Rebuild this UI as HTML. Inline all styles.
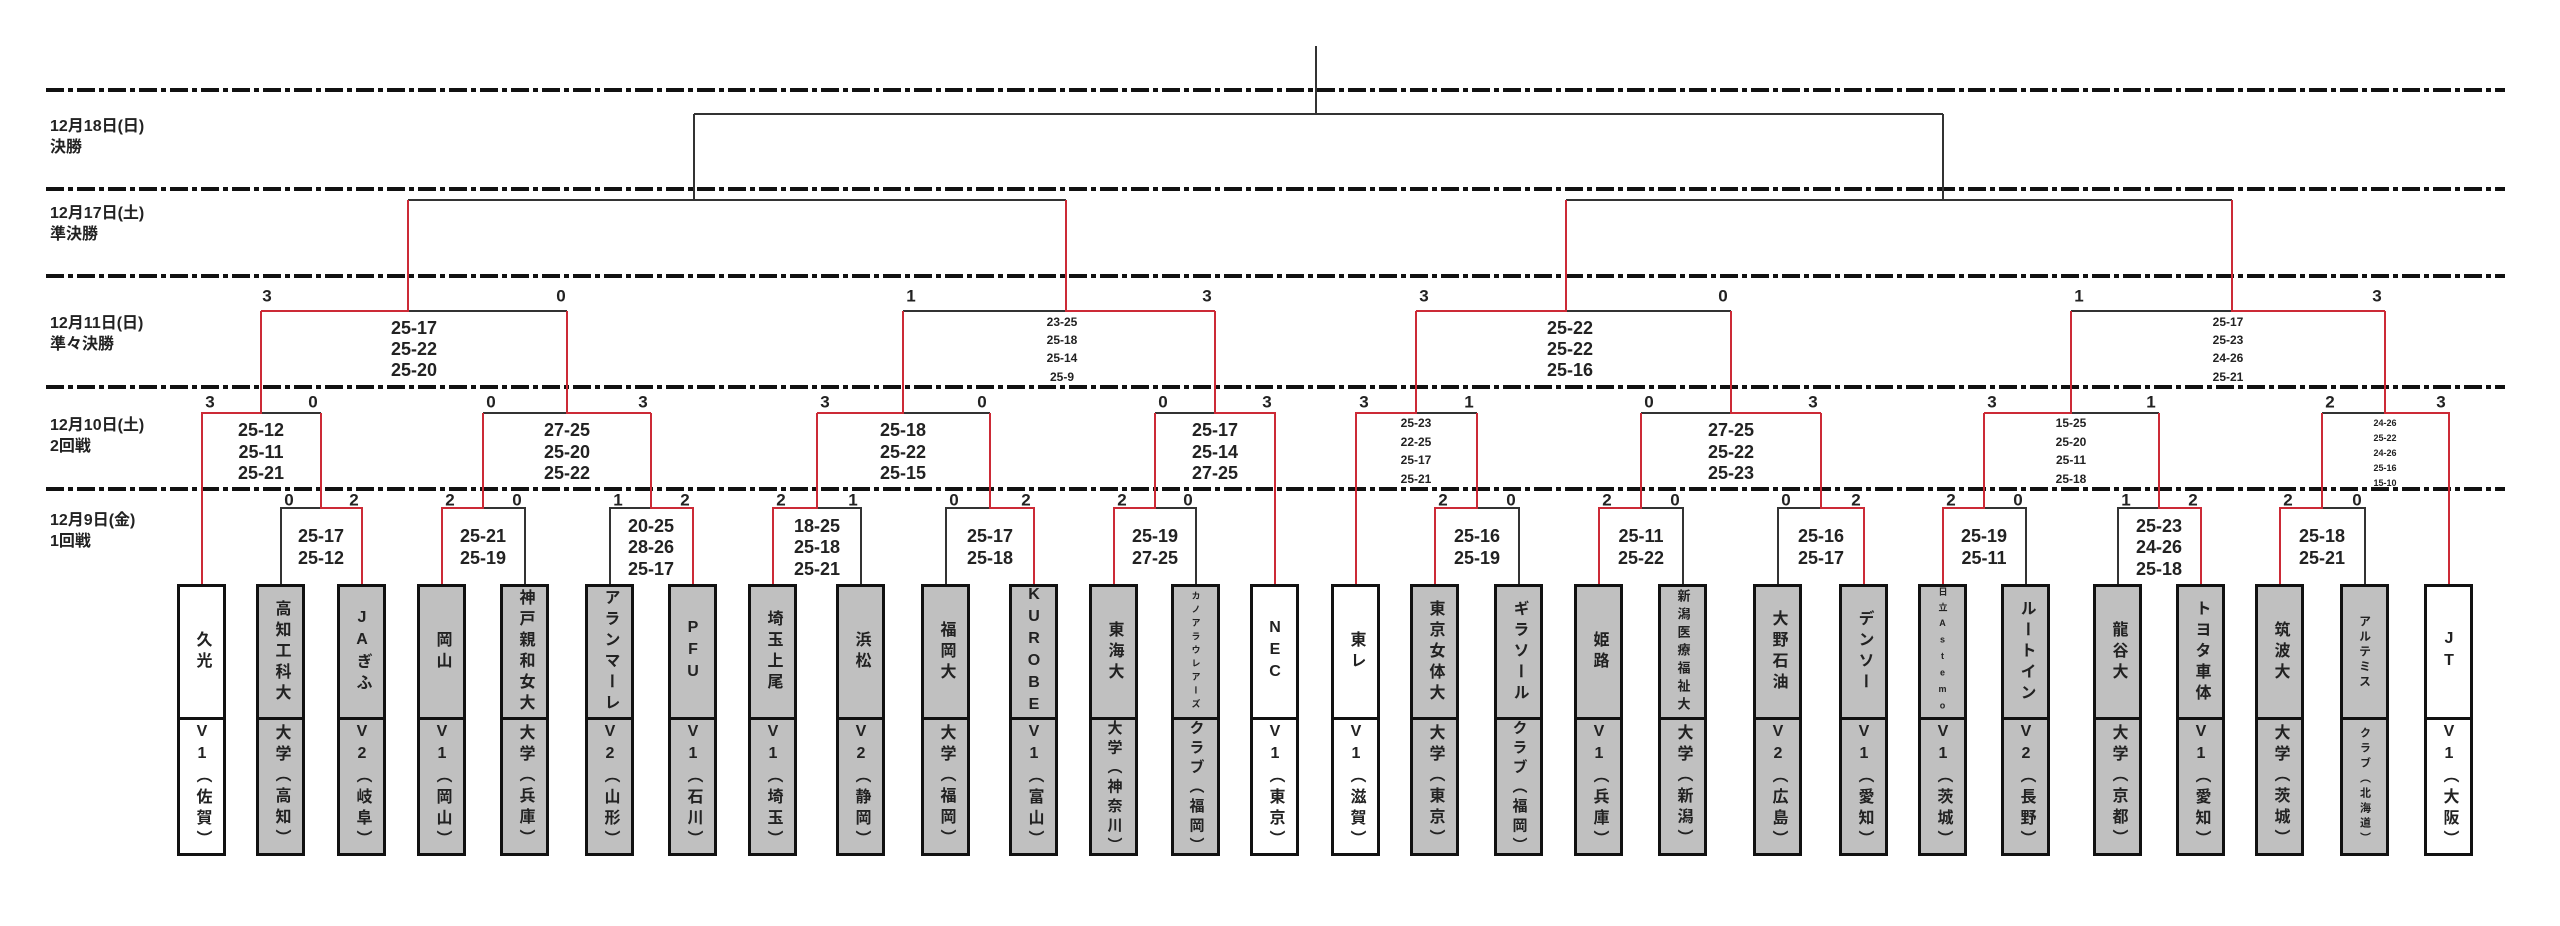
<!DOCTYPE html>
<html><head><meta charset="utf-8">
<style>
html,body{margin:0;padding:0;background:#fff;}
#wrap{position:relative;width:2560px;height:926px;overflow:hidden;background:#fff;}
svg{position:absolute;left:0;top:0;}
.lbl{position:absolute;left:50px;font-family:"Liberation Sans Narrow","Liberation Sans","Noto Sans CJK JP",sans-serif;font-weight:bold;font-size:16px;line-height:21px;color:#222;}
.b{position:absolute;top:584px;width:43px;height:266px;border:3px solid #111;background:#c0c0c0;font-family:"Liberation Sans","Noto Sans CJK JP",sans-serif;font-weight:bold;color:#222;}
.w{background:#fff;}
.t{height:130px;border-bottom:3px solid #111;display:flex;align-items:center;justify-content:center;}
.u{height:133px;display:flex;align-items:center;justify-content:center;}
.v{writing-mode:vertical-rl;text-orientation:upright;font-size:16px;letter-spacing:5px;line-height:20px;}
.s{font-size:12px;letter-spacing:6px;}
.xs{font-size:9px;letter-spacing:4.5px;}
.m{font-size:13px;letter-spacing:5px;}
.v7{font-size:15px;letter-spacing:4.5px;}
</style></head><body><div id="wrap">
<svg width="2560" height="926" xmlns="http://www.w3.org/2000/svg">
<g stroke="#111" stroke-width="4" stroke-dasharray="18 4 5 4">
<line x1="46" y1="90" x2="2505" y2="90"/><line x1="46" y1="189" x2="2505" y2="189"/><line x1="46" y1="276" x2="2505" y2="276"/><line x1="46" y1="387" x2="2505" y2="387"/><line x1="46" y1="489" x2="2505" y2="489"/>
</g>
<g stroke="#333" stroke-width="2" fill="none">
<path d="M1316 46V114M694 114H1943M694 114V200M1943 114V200M408 200H1066M1566 200H2232"/>
<path d="M281 584V508H321M525 584V508H483M610 584V508H651M861 584V508H817M946 584V508H990M1196 584V508H1155M1519 584V508H1477M1683 584V508H1641M1778 584V508H1821M2026 584V508H1984M2118 584V508H2159M2365 584V508H2322"/>
<path d="M261 413H321M483 413H567M903 413H990M1155 413H1215M1416 413H1477M1641 413H1731M2071 413H2159M2322 413H2385"/>
<path d="M408 311H567M903 311H1066M1566 311H1731M2071 311H2232"/>
</g>
<g stroke="#cc2a36" stroke-width="2" fill="none">
<path d="M362 584V508H321V413M442 584V508H483V413M693 584V508H651V413M773 584V508H817V413M1034 584V508H990V413M1114 584V508H1155V413M1435 584V508H1477V413M1599 584V508H1641V413M1864 584V508H1821V413M1943 584V508H1984V413M2201 584V508H2159V413M2280 584V508H2322V413"/>
<path d="M202 584V413H261V311M651 413H567V311M817 413H903V311M1275 584V413H1215V311M1356 584V413H1416V311M1821 413H1731V311M1984 413H2071V311M2449 584V413H2385V311"/>
<path d="M261 311H408V200M1215 311H1066V200M1416 311H1566V200M2385 311H2232V200"/>
</g>
<g font-family="'Liberation Sans Narrow','Liberation Sans',sans-serif" font-weight="bold" font-size="17" fill="#222" text-anchor="middle" dominant-baseline="central">
<text x="289" y="500">0</text><text x="354" y="500">2</text>
<text x="450" y="500">2</text><text x="517" y="500">0</text>
<text x="618" y="500">1</text><text x="685" y="500">2</text>
<text x="781" y="500">2</text><text x="853" y="500">1</text>
<text x="954" y="500">0</text><text x="1026" y="500">2</text>
<text x="1122" y="500">2</text><text x="1188" y="500">0</text>
<text x="1443" y="500">2</text><text x="1511" y="500">0</text>
<text x="1607" y="500">2</text><text x="1675" y="500">0</text>
<text x="1786" y="500">0</text><text x="1856" y="500">2</text>
<text x="1951" y="500">2</text><text x="2018" y="500">0</text>
<text x="2126" y="500">1</text><text x="2193" y="500">2</text>
<text x="2288" y="500">2</text><text x="2357" y="500">0</text>
<text x="210" y="402">3</text><text x="313" y="402">0</text>
<text x="491" y="402">0</text><text x="643" y="402">3</text>
<text x="825" y="402">3</text><text x="982" y="402">0</text>
<text x="1163" y="402">0</text><text x="1267" y="402">3</text>
<text x="1364" y="402">3</text><text x="1469" y="402">1</text>
<text x="1649" y="402">0</text><text x="1813" y="402">3</text>
<text x="1992" y="402">3</text><text x="2151" y="402">1</text>
<text x="2330" y="402">2</text><text x="2441" y="402">3</text>
<text x="267" y="296">3</text><text x="561" y="296">0</text>
<text x="911" y="296">1</text><text x="1207" y="296">3</text>
<text x="1424" y="296">3</text><text x="1723" y="296">0</text>
<text x="2079" y="296">1</text><text x="2377" y="296">3</text>
</g>
<g font-family="'Liberation Sans Narrow','Liberation Sans',sans-serif" font-weight="bold" font-size="18" fill="#222" text-anchor="middle" dominant-baseline="central">
<text x="321" y="536">25-17</text><text x="321" y="558">25-12</text>
<text x="483" y="536">25-21</text><text x="483" y="558">25-19</text>
<text x="651" y="526">20-25</text><text x="651" y="547">28-26</text><text x="651" y="569">25-17</text>
<text x="817" y="526">18-25</text><text x="817" y="547">25-18</text><text x="817" y="569">25-21</text>
<text x="990" y="536">25-17</text><text x="990" y="558">25-18</text>
<text x="1155" y="536">25-19</text><text x="1155" y="558">27-25</text>
<text x="1477" y="536">25-16</text><text x="1477" y="558">25-19</text>
<text x="1641" y="536">25-11</text><text x="1641" y="558">25-22</text>
<text x="1821" y="536">25-16</text><text x="1821" y="558">25-17</text>
<text x="1984" y="536">25-19</text><text x="1984" y="558">25-11</text>
<text x="2159" y="526">25-23</text><text x="2159" y="547">24-26</text><text x="2159" y="569">25-18</text>
<text x="2322" y="536">25-18</text><text x="2322" y="558">25-21</text>
<text x="261" y="430">25-12</text><text x="261" y="452">25-11</text><text x="261" y="473">25-21</text>
<text x="567" y="430">27-25</text><text x="567" y="452">25-20</text><text x="567" y="473">25-22</text>
<text x="903" y="430">25-18</text><text x="903" y="452">25-22</text><text x="903" y="473">25-15</text>
<text x="1215" y="430">25-17</text><text x="1215" y="452">25-14</text><text x="1215" y="473">27-25</text>
<text x="1731" y="430">27-25</text><text x="1731" y="452">25-22</text><text x="1731" y="473">25-23</text>
<text x="414" y="328">25-17</text><text x="414" y="349">25-22</text><text x="414" y="370">25-20</text>
<text x="1570" y="328">25-22</text><text x="1570" y="349">25-22</text><text x="1570" y="370">25-16</text>
</g>
<g font-family="'Liberation Sans Narrow','Liberation Sans',sans-serif" font-weight="bold" font-size="12" fill="#222" text-anchor="middle" dominant-baseline="central">
<text x="1416" y="423">25-23</text><text x="1416" y="442">22-25</text><text x="1416" y="460">25-17</text><text x="1416" y="479">25-21</text>
<text x="2071" y="423">15-25</text><text x="2071" y="442">25-20</text><text x="2071" y="460">25-11</text><text x="2071" y="479">25-18</text>
<text x="1062" y="322">23-25</text><text x="1062" y="340">25-18</text><text x="1062" y="358">25-14</text><text x="1062" y="377">25-9</text>
<text x="2228" y="322">25-17</text><text x="2228" y="340">25-23</text><text x="2228" y="358">24-26</text><text x="2228" y="377">25-21</text>
</g>
<g font-family="'Liberation Sans Narrow','Liberation Sans',sans-serif" font-weight="bold" font-size="9" fill="#222" text-anchor="middle" dominant-baseline="central">
<text x="2385" y="423">24-26</text><text x="2385" y="438">25-22</text><text x="2385" y="453">24-26</text><text x="2385" y="468">25-16</text><text x="2385" y="483">15-10</text>
</g>
</svg>
<div class="lbl" style="top:116px">12月18日(日)<br>決勝</div>
<div class="lbl" style="top:203px">12月17日(土)<br>準決勝</div>
<div class="lbl" style="top:313px">12月11日(日)<br>準々決勝</div>
<div class="lbl" style="top:415px">12月10日(土)<br>2回戦</div>
<div class="lbl" style="top:510px">12月9日(金)<br>1回戦</div>

<div class="b w" style="left:177px"><div class="t"><span class="v">久光</span></div><div class="u"><span class="v">V1（佐賀）</span></div></div>
<div class="b" style="left:256px"><div class="t"><span class="v">高知工科大</span></div><div class="u"><span class="v">大学（高知）</span></div></div>
<div class="b" style="left:337px"><div class="t"><span class="v">JAぎふ</span></div><div class="u"><span class="v">V2（岐阜）</span></div></div>
<div class="b" style="left:417px"><div class="t"><span class="v">岡山</span></div><div class="u"><span class="v">V1（岡山）</span></div></div>
<div class="b" style="left:500px"><div class="t"><span class="v">神戸親和女大</span></div><div class="u"><span class="v">大学（兵庫）</span></div></div>
<div class="b" style="left:585px"><div class="t"><span class="v">アランマーレ</span></div><div class="u"><span class="v">V2（山形）</span></div></div>
<div class="b" style="left:668px"><div class="t"><span class="v">PFU</span></div><div class="u"><span class="v">V1（石川）</span></div></div>
<div class="b" style="left:748px"><div class="t"><span class="v">埼玉上尾</span></div><div class="u"><span class="v">V1（埼玉）</span></div></div>
<div class="b" style="left:836px"><div class="t"><span class="v">浜松</span></div><div class="u"><span class="v">V2（静岡）</span></div></div>
<div class="b" style="left:921px"><div class="t"><span class="v">福岡大</span></div><div class="u"><span class="v">大学（福岡）</span></div></div>
<div class="b" style="left:1009px"><div class="t"><span class="v">KUROBE</span></div><div class="u"><span class="v">V1（富山）</span></div></div>
<div class="b" style="left:1089px"><div class="t"><span class="v">東海大</span></div><div class="u"><span class="v v7">大学（神奈川）</span></div></div>
<div class="b" style="left:1171px"><div class="t"><span class="v xs">カノアラウレアーズ</span></div><div class="u"><span class="v v7">クラブ（福岡）</span></div></div>
<div class="b w" style="left:1250px"><div class="t"><span class="v">NEC</span></div><div class="u"><span class="v">V1（東京）</span></div></div>
<div class="b w" style="left:1331px"><div class="t"><span class="v">東レ</span></div><div class="u"><span class="v">V1（滋賀）</span></div></div>
<div class="b" style="left:1410px"><div class="t"><span class="v">東京女体大</span></div><div class="u"><span class="v">大学（東京）</span></div></div>
<div class="b" style="left:1494px"><div class="t"><span class="v">ギラソール</span></div><div class="u"><span class="v v7">クラブ（福岡）</span></div></div>
<div class="b" style="left:1574px"><div class="t"><span class="v">姫路</span></div><div class="u"><span class="v">V1（兵庫）</span></div></div>
<div class="b" style="left:1658px"><div class="t"><span class="v m">新潟医療福祉大</span></div><div class="u"><span class="v">大学（新潟）</span></div></div>
<div class="b" style="left:1753px"><div class="t"><span class="v">大野石油</span></div><div class="u"><span class="v">V2（広島）</span></div></div>
<div class="b" style="left:1839px"><div class="t"><span class="v">デンソー</span></div><div class="u"><span class="v">V1（愛知）</span></div></div>
<div class="b" style="left:1918px"><div class="t"><span class="v xs" style="letter-spacing:6.5px">日立Astemo</span></div><div class="u"><span class="v">V1（茨城）</span></div></div>
<div class="b" style="left:2001px"><div class="t"><span class="v">ルートイン</span></div><div class="u"><span class="v">V2（長野）</span></div></div>
<div class="b" style="left:2093px"><div class="t"><span class="v">龍谷大</span></div><div class="u"><span class="v">大学（京都）</span></div></div>
<div class="b" style="left:2176px"><div class="t"><span class="v">トヨタ車体</span></div><div class="u"><span class="v">V1（愛知）</span></div></div>
<div class="b" style="left:2255px"><div class="t"><span class="v">筑波大</span></div><div class="u"><span class="v">大学（茨城）</span></div></div>
<div class="b" style="left:2340px"><div class="t"><span class="v s" style="letter-spacing:3px">アルテミス</span></div><div class="u"><span class="v s" style="font-size:11px;letter-spacing:4px">クラブ（北海道）</span></div></div>
<div class="b w" style="left:2424px"><div class="t"><span class="v">JT</span></div><div class="u"><span class="v">V1（大阪）</span></div></div>
</div></body></html>
